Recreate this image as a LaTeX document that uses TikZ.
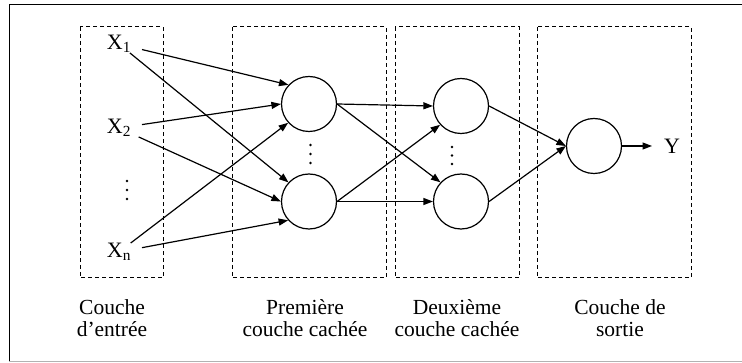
\documentclass[tikz,border=0pt]{standalone}
\usepackage{fontspec}
\setmainfont{Liberation Serif}
\usetikzlibrary{arrows.meta}
\begin{document}
\begin{tikzpicture}[x=1pt,y=-1pt,
  layerbox/.style={draw, line width=1pt, dash pattern=on 4pt off 3pt},
  neuron/.style={draw, circle, line width=1.2pt, minimum size=55pt, inner sep=0pt},
  xlab/.style={inner sep=0pt, outer xsep=11pt, font=\fontsize{22}{23}\selectfont},
  caption/.style={align=center, inner sep=0pt, font=\fontsize{21.5}{22}\selectfont},
  conn/.style={line width=1.2pt, -{Triangle[length=9.5pt,width=7pt]}},
  dotmark/.style={fill, circle, inner sep=0pt, minimum size=2.8pt}
]
\useasboundingbox (0,0) rectangle (742,363);
% frame
\draw[line width=1pt] (9,361.5) -- (9,4.5) -- (742,4.5);
\draw[line width=1pt, black!30] (9,361.5) -- (742,361.5);

% layer boxes
\draw[layerbox] (80,27) rectangle (163,278);
\draw[layerbox] (232,27) rectangle (386,278);
\draw[layerbox] (395,27) rectangle (519,278);
\draw[layerbox] (537,27) rectangle (691,278);

% inputs
\node[xlab, anchor=east] (x1) at (142,44) {X\textsubscript{1}};
\node[xlab, anchor=east] (x2) at (142,128) {X\textsubscript{2}};
\node[xlab, anchor=east] (xn) at (142,252) {X\textsubscript{n}};
\node[dotmark] (dx1) at (127,181) {};
\node[dotmark] (dx2) at (127,190) {};
\node[dotmark] (dx3) at (127,199) {};

% first hidden layer
\node[neuron] (h1) at (309,104) {};
\node[neuron] (h1b) at (309,201.5) {};
\node[dotmark] (dh1) at (310.5,145) {};
\node[dotmark] (dh2) at (310.5,154) {};
\node[dotmark] (dh3) at (310.5,163) {};

% second hidden layer
\node[neuron] (h2) at (461,106) {};
\node[neuron] (h2b) at (461,201.5) {};
\node[dotmark] (dk1) at (452,147) {};
\node[dotmark] (dk2) at (452,155.5) {};
\node[dotmark] (dk3) at (452,164) {};

% output
\node[neuron] (o) at (594,146) {};
\node[xlab, anchor=west, outer xsep=12pt] (y) at (652,146) {Y};

% connections input -> hidden 1
\draw[conn] (x1) -- (h1.137);
\draw[conn] (x1) -- (h1b.137);
\draw[conn] (x2) -- (h1.180);
\draw[conn] (x2) -- (h1b.180);
\draw[conn] (xn) -- (h1.222);
\draw[conn] (xn) -- (h1b.222);

% hidden 1 -> hidden 2
\draw[conn] (h1.east) -- (h2.west);
\draw[conn] (h1.east) -- (h2b.137);
\draw[conn] (h1b.east) -- (h2.222);
\draw[conn] (h1b.east) -- (h2b.west);

% hidden 2 -> output
\draw[conn] (h2.east) -- (o.west);
\draw[conn] (h2b.east) -- (o.west);
\draw[conn] (o.east) -- (y);

% captions
\node[caption] (c1) at (112,318) {Couche\\d’entrée};
\node[caption] (c2) at (305,318) {Première\\couche cachée};
\node[caption] (c3) at (457,318) {Deuxième\\couche cachée};
\node[caption] (c4) at (620,318) {Couche de\\sortie};
\end{tikzpicture}
\end{document}
